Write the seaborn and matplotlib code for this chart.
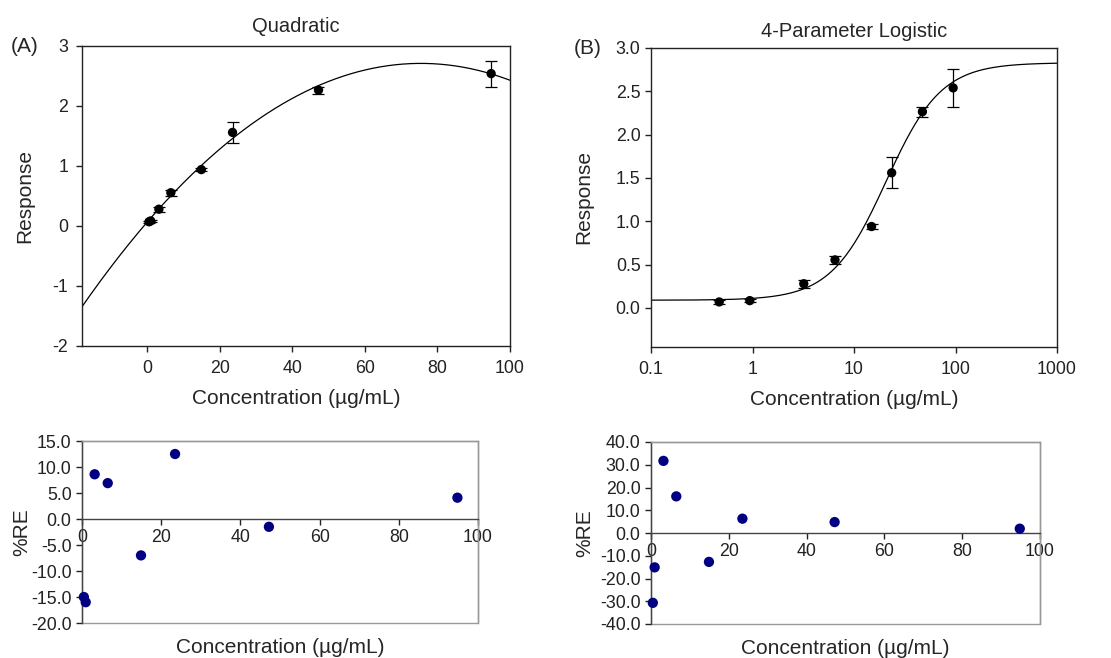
import numpy as np
import pandas as pd
import matplotlib
matplotlib.use("Agg")
import matplotlib.pyplot as plt
import seaborn as sns
from matplotlib.patches import Rectangle
from matplotlib.ticker import FixedLocator, FuncFormatter, NullLocator

# ---------------- data ----------------
conc = [0.47, 0.94, 3.2, 6.5, 14.9, 23.5, 47.2, 94.8]           # µg/mL
response = [0.07, 0.085, 0.28, 0.555, 0.94, 1.56, 2.265, 2.54]
response_sd = [0.02, 0.02, 0.045, 0.05, 0.03, 0.177, 0.058, 0.217]

quad_re = [-15.0, -16.0, 8.6, 6.9, -7.0, 12.5, -1.5, 4.1]        # %RE, quadratic fit
pl4_re = [-30.7, -15.1, 31.7, 16.1, -12.7, 6.3, 4.8, 1.9]        # %RE, 4PL fit

# fitted model parameters
quad_coef = [0.067, 0.0701, -4.648e-4]        # a + b*x + c*x^2
pl4_bottom, pl4_top, pl4_ec50, pl4_hill = 0.09, 2.83, 20.7, 1.6

quad_xticks = [0, 20, 40, 60, 80, 100]
quad_yticks = [-2, -1, 0, 1, 2, 3]
log_xticks = [0.1, 1, 10, 100, 1000]
log_yticks = [0.0, 0.5, 1.0, 1.5, 2.0, 2.5, 3.0]
re_xticks = [0, 20, 40, 60, 80, 100]
quad_re_yticks = [-20, -15, -10, -5, 0, 5, 10, 15]
pl4_re_yticks = [-40, -30, -20, -10, 0, 10, 20, 30, 40]

# ---------------- style ----------------
sns.set_theme(style="ticks")
plt.rcParams['font.family'] = ['Liberation Sans', 'DejaVu Sans']
plt.rcParams['axes.unicode_minus'] = False

df = pd.DataFrame({"conc": conc, "resp": response, "sd": response_sd,
                   "qre": quad_re, "pre": pl4_re})

xq = np.linspace(-18, 100, 400)
curve_q = pd.DataFrame({"x": xq, "y": quad_coef[0] + quad_coef[1] * xq + quad_coef[2] * xq ** 2})
xl = np.logspace(-1, 3, 400)
curve_l = pd.DataFrame({"x": xl, "y": pl4_top + (pl4_bottom - pl4_top) / (1 + (xl / pl4_ec50) ** pl4_hill)})

fig = plt.figure(figsize=(11.11, 6.58), dpi=100)
W, H = 1111, 658


def add_ax(l, t, r, b):
    return fig.add_axes([l / W, 1 - b / H, (r - l) / W, (b - t) / H])


axA = add_ax(82, 46, 510, 346)
axB = add_ax(651, 48, 1057, 347)
axC = add_ax(82, 441, 478, 623)
axD = add_ax(651, 442, 1040, 624)

TICK_FS = 12.8
LAB_FS = 15
DOT = "#000080"

# ---------------- (A) quadratic ----------------
ax = axA
sns.lineplot(data=curve_q, x="x", y="y", ax=ax, color="black", lw=0.9, zorder=2)
ax.errorbar(df["conc"], df["resp"], yerr=df["sd"], fmt="none", ecolor="black",
            elinewidth=0.9, capsize=4.3, capthick=0.9, zorder=3)
sns.scatterplot(data=df, x="conc", y="resp", ax=ax, color="black", s=45,
                edgecolor="none", zorder=4)
ax.set_xlim(-18, 100)
ax.set_ylim(-2, 3)
ax.xaxis.set_major_locator(FixedLocator(quad_xticks))
ax.yaxis.set_major_locator(FixedLocator(quad_yticks))
ax.xaxis.set_major_formatter(FuncFormatter(lambda v, p: f"{v:g}"))
ax.yaxis.set_major_formatter(FuncFormatter(lambda v, p: f"{v:g}"))
ax.set_xlabel("Concentration (µg/mL)", fontsize=LAB_FS, labelpad=8.5)
ax.set_ylabel("Response", fontsize=LAB_FS, labelpad=13)
ax.set_title("Quadratic", fontsize=14.5, pad=10)
ax.text(-0.135, 1.0, "(A)", transform=ax.transAxes, fontsize=15, ha="center", va="center")

# ---------------- (B) 4PL ----------------
ax = axB
sns.lineplot(data=curve_l, x="x", y="y", ax=ax, color="black", lw=0.9, zorder=2)
ax.errorbar(df["conc"], df["resp"], yerr=df["sd"], fmt="none", ecolor="black",
            elinewidth=0.9, capsize=4.3, capthick=0.9, zorder=3)
sns.scatterplot(data=df, x="conc", y="resp", ax=ax, color="black", s=45,
                edgecolor="none", zorder=4)
ax.set_xscale("log")
ax.set_xlim(0.1, 1000)
ax.set_ylim(-0.45, 3.0)
ax.xaxis.set_major_locator(FixedLocator(log_xticks))
ax.xaxis.set_minor_locator(NullLocator())
ax.yaxis.set_major_locator(FixedLocator(log_yticks))
ax.xaxis.set_major_formatter(FuncFormatter(lambda v, p: f"{v:g}"))
ax.yaxis.set_major_formatter(FuncFormatter(lambda v, p: f"{v:.1f}"))
ax.set_xlabel("Concentration (µg/mL)", fontsize=LAB_FS, labelpad=8.5)
ax.set_ylabel("Response", fontsize=LAB_FS, labelpad=16)
ax.set_title("4-Parameter Logistic", fontsize=14.5, pad=8)
ax.text(-0.155, 1.0, "(B)", transform=ax.transAxes, fontsize=15, ha="center", va="center")

for ax in (axA, axB):
    for s in ax.spines.values():
        s.set_color("#222222")
        s.set_linewidth(1.0)
    ax.tick_params(axis="both", which="major", direction="out", length=4, width=1,
                   labelsize=TICK_FS, colors="#222222", top=False, right=False)
    ax.tick_params(axis="x", pad=6)
axA.tick_params(axis="y", pad=6)


# ---------------- residual panels ----------------
def residual_panel(ax, col, yticks, ylabelpad):
    sns.scatterplot(data=df, x="conc", y=col, ax=ax, color=DOT, s=55,
                    edgecolor="none", zorder=4, clip_on=False)
    ax.set_xlim(0, 100)
    ax.set_ylim(yticks[0], yticks[-1])
    ax.xaxis.set_major_locator(FixedLocator(re_xticks))
    ax.yaxis.set_major_locator(FixedLocator(yticks))
    ax.xaxis.set_major_formatter(FuncFormatter(lambda v, p: f"{v:g}"))
    ax.yaxis.set_major_formatter(FuncFormatter(lambda v, p: f"{v:.1f}"))
    ax.spines["bottom"].set_position(("data", 0))
    ax.spines["bottom"].set_color("#444444")
    ax.spines["left"].set_color("#444444")
    ax.spines["top"].set_color("#999999")
    ax.spines["right"].set_color("#999999")
    for s in ax.spines.values():
        s.set_linewidth(1.0)
    ax.add_patch(Rectangle((0, 0), 1, 1, transform=ax.transAxes, fill=False,
                           edgecolor="#999999", lw=1.0, zorder=0.5, clip_on=False))
    ax.tick_params(axis="both", direction="out", length=4, width=1,
                   labelsize=TICK_FS, colors="#222222")
    ax.tick_params(axis="x", pad=3)
    ax.set_ylabel("%RE", fontsize=LAB_FS, labelpad=ylabelpad)
    ax.set_xlabel("Concentration (µg/mL)", fontsize=LAB_FS)
    ax.xaxis.set_label_coords(0.5, -0.085)


residual_panel(axC, "qre", quad_re_yticks, 0)
residual_panel(axD, "pre", pl4_re_yticks, 4)

fig.savefig("out.png", dpi=100)
